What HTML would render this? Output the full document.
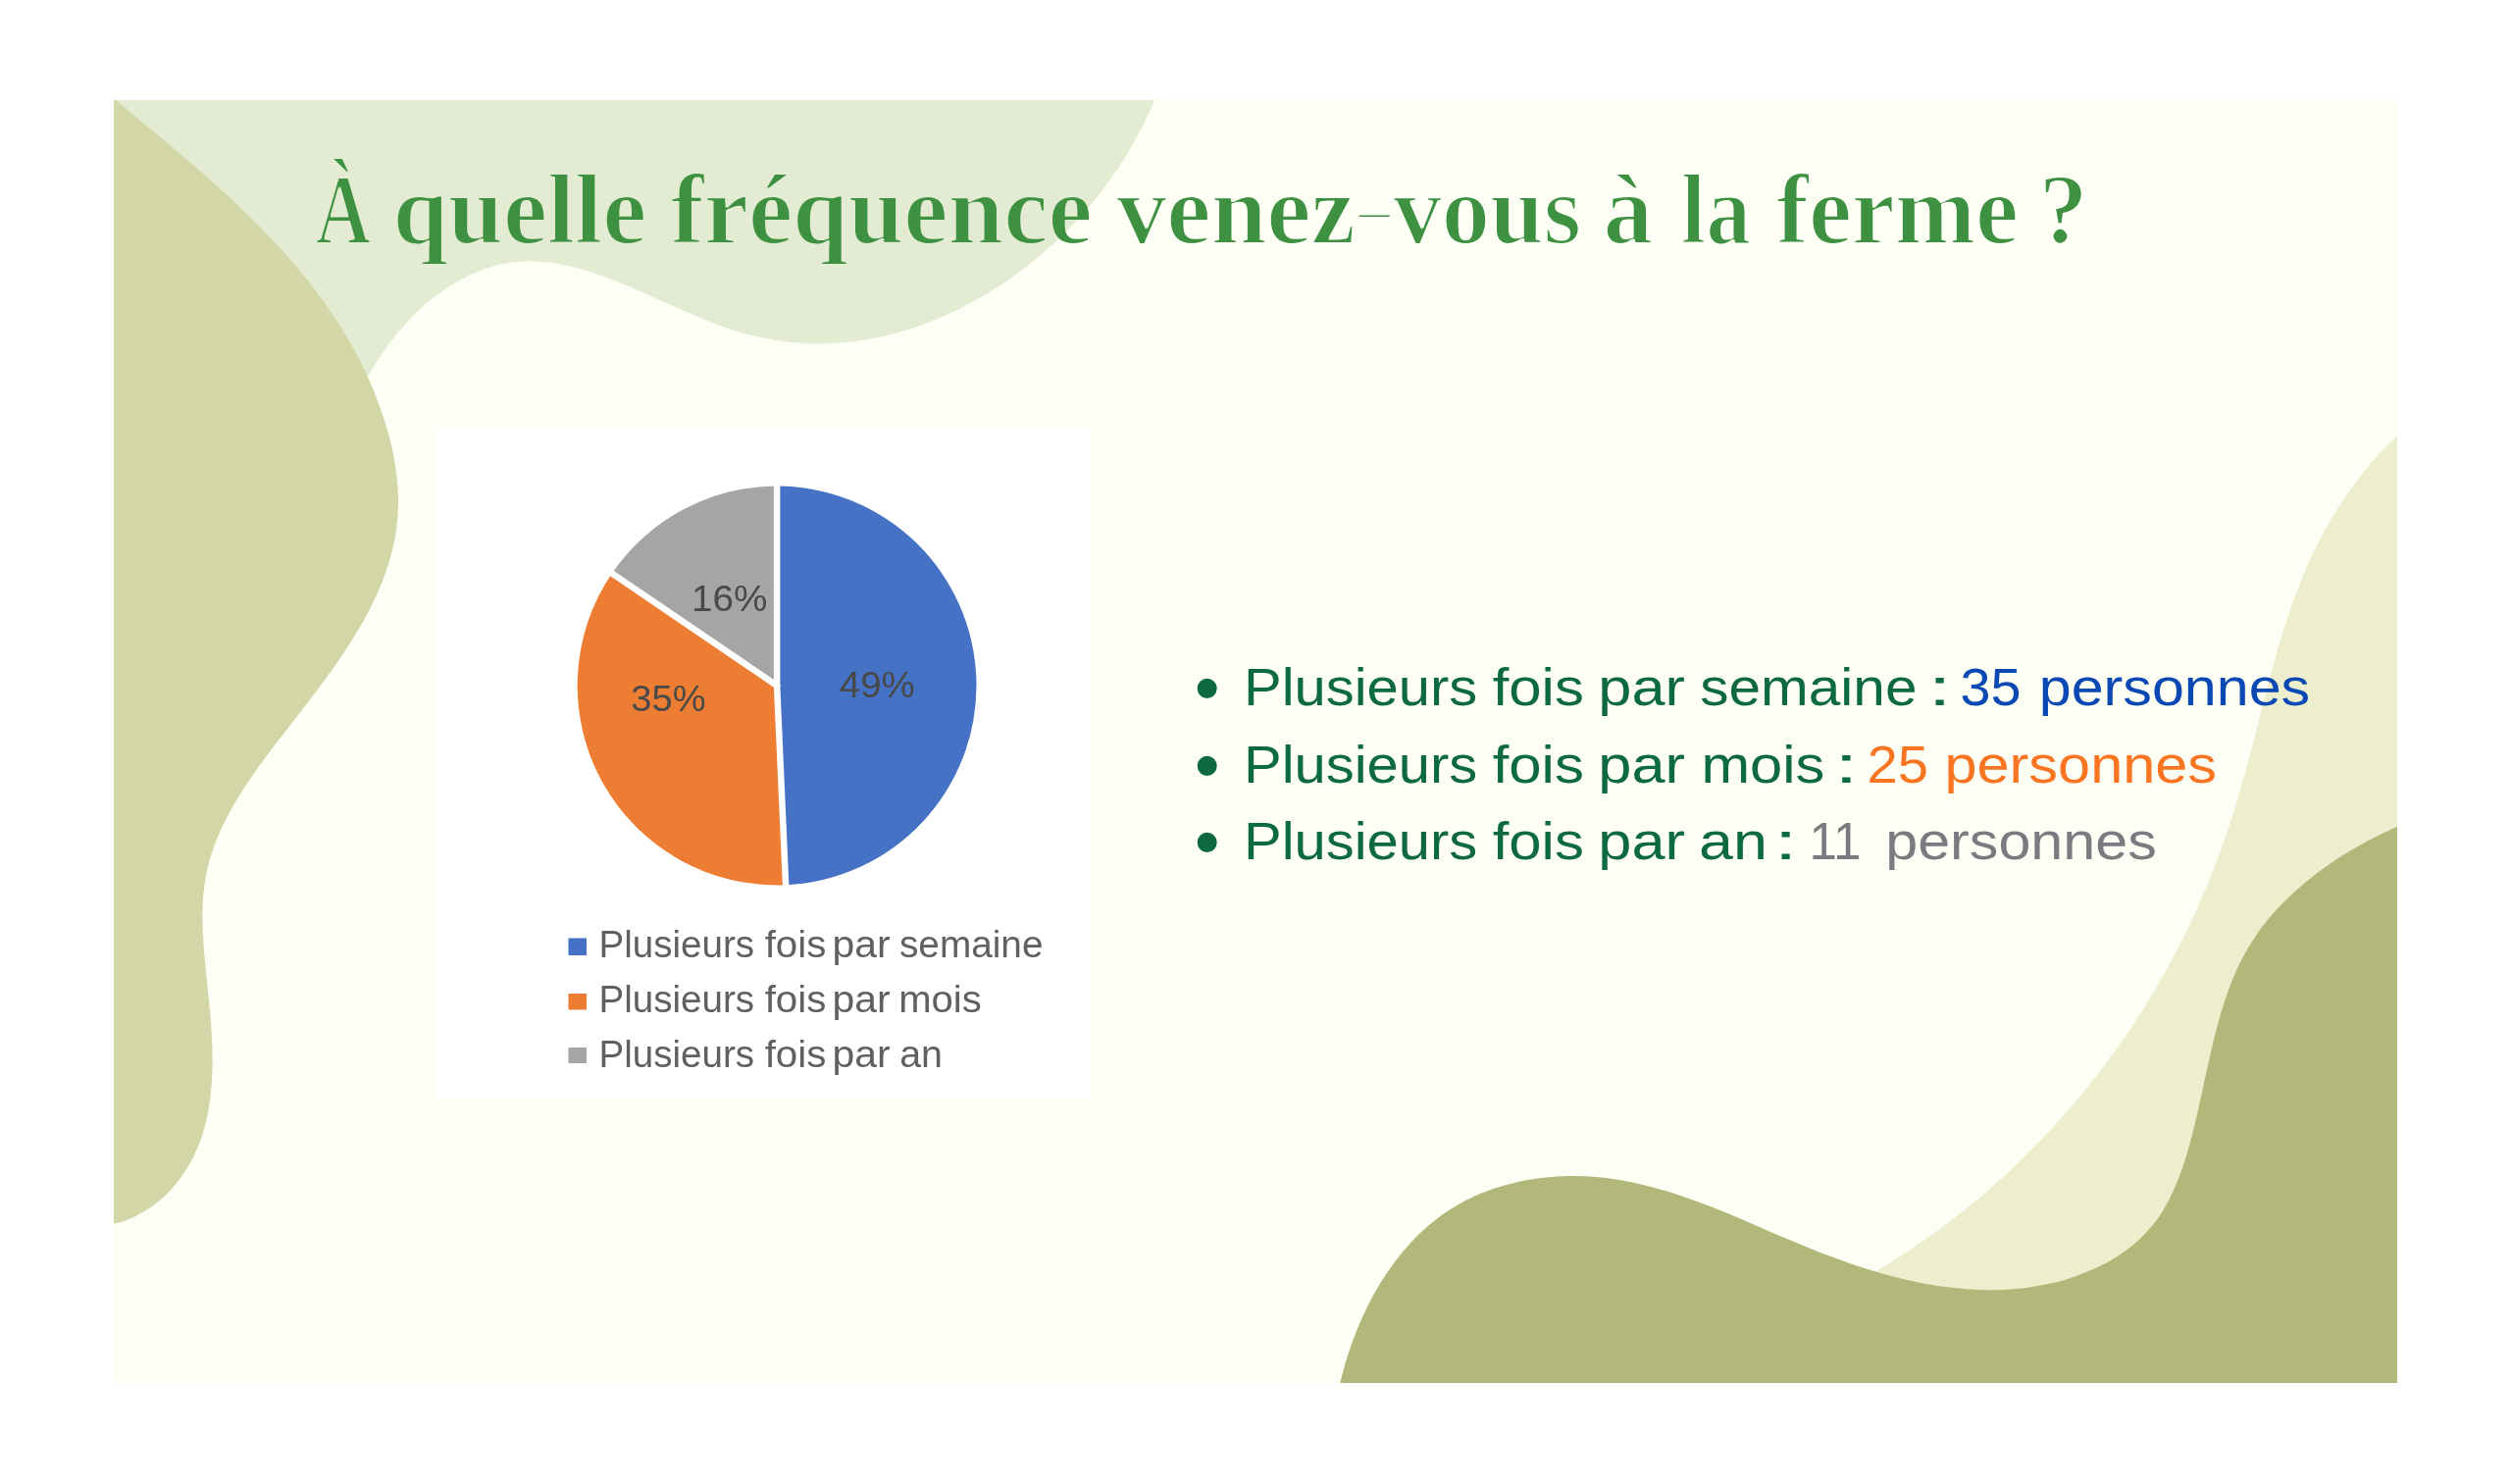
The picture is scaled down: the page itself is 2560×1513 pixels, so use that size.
<!DOCTYPE html>
<html lang="fr"><head><meta charset="utf-8"><title>À quelle fréquence venez-vous à la ferme ?</title>
<style>html,body{margin:0;padding:0;background:#fff}body{width:2560px;height:1513px;overflow:hidden}svg{display:block}text{white-space:pre}</style></head><body>
<svg width="2560" height="1513" viewBox="0 0 2560 1513">
<defs><clipPath id="slide"><rect x="116" y="102" width="2328" height="1308"/></clipPath><filter id="soft" x="-5%" y="-5%" width="110%" height="110%"><feGaussianBlur stdDeviation="0.65"/></filter><filter id="thin" x="-2%" y="-20%" width="104%" height="140%"><feMorphology operator="erode" radius="1"/></filter></defs>
<rect width="2560" height="1513" fill="#ffffff"/>
<!-- slide background and organic shapes -->
<g clip-path="url(#slide)">
<rect x="116" y="102" width="2328" height="1308" fill="#FDFFF5"/>
<path d="M116 80 L1182.5 88.0 C1180.9 91.9 1176.4 103.8 1173.0 111.6 C1169.6 119.4 1165.8 127.1 1161.8 134.7 C1157.8 142.3 1153.6 149.8 1149.0 157.2 C1144.5 164.6 1139.8 171.8 1134.8 179.0 C1129.8 186.1 1124.5 193.1 1119.1 199.9 C1113.7 206.7 1108.0 213.4 1102.1 219.9 C1096.3 226.4 1090.2 232.8 1083.9 238.9 C1077.7 245.1 1071.2 251.0 1064.6 256.8 C1058.0 262.5 1051.2 268.1 1044.3 273.4 C1037.4 278.7 1030.3 283.9 1023.1 288.7 C1015.8 293.6 1008.5 298.2 1001.0 302.6 C993.5 306.9 985.9 311.0 978.1 314.9 C970.4 318.7 962.6 322.2 954.7 325.5 C946.8 328.8 938.7 331.7 930.7 334.4 C922.6 337.1 914.4 339.4 906.2 341.4 C898.0 343.5 889.7 345.2 881.4 346.5 C873.0 347.9 864.7 348.9 856.3 349.5 C847.9 350.2 839.4 350.5 831.0 350.4 C822.6 350.3 814.1 349.8 805.7 348.9 C797.2 348.1 788.8 346.8 780.3 345.1 C771.9 343.5 763.5 341.3 755.1 338.9 C746.8 336.4 738.4 333.5 730.1 330.4 C721.8 327.3 713.5 323.8 705.2 320.3 C696.9 316.8 688.7 313.1 680.4 309.4 C672.2 305.8 664.0 302.0 655.8 298.4 C647.6 294.8 639.4 291.2 631.3 288.0 C623.1 284.7 615.0 281.6 606.9 278.8 C598.7 276.1 590.6 273.7 582.5 271.7 C574.4 269.8 566.3 268.2 558.2 267.4 C550.1 266.5 542.1 266.0 534.0 266.4 C525.9 266.8 517.8 267.8 509.8 269.6 C501.8 271.5 493.7 274.1 485.8 277.4 C477.8 280.7 470.0 284.8 462.4 289.4 C454.8 293.9 447.4 299.2 440.3 304.7 C433.3 310.3 426.6 316.4 420.3 322.8 C414.0 329.1 408.2 335.9 402.7 342.7 C397.2 349.6 392.1 356.8 387.3 364.0 C382.6 371.3 378.1 378.7 373.9 386.0 C369.7 393.3 364.0 404.3 362.0 408.0 L116 460 Z" fill="#E3ECD2"/>
<path d="M98.0 85.3 C101.6 88.3 112.5 97.4 119.8 103.5 C127.1 109.6 134.4 115.6 141.7 121.7 C149.1 127.8 156.4 133.9 163.7 140.0 C171.1 146.2 178.4 152.3 185.7 158.5 C192.9 164.7 200.2 170.9 207.3 177.2 C214.5 183.5 221.6 189.9 228.7 196.3 C235.7 202.8 242.6 209.3 249.5 215.9 C256.3 222.5 263.0 229.2 269.6 236.0 C276.2 242.8 282.7 249.7 289.0 256.7 C295.3 263.7 301.5 270.9 307.5 278.1 C313.5 285.4 319.3 292.8 324.9 300.4 C330.5 308.0 336.0 315.7 341.2 323.5 C346.4 331.4 351.4 339.5 356.1 347.7 C360.8 355.9 365.3 364.3 369.6 372.9 C373.8 381.5 377.8 390.4 381.4 399.4 C385.1 408.4 388.5 417.6 391.5 426.9 C394.5 436.2 397.1 445.7 399.3 455.2 C401.4 464.6 403.1 474.2 404.3 483.7 C405.4 493.1 406.1 502.6 406.0 511.9 C406.0 521.2 405.3 530.4 404.1 539.4 C402.8 548.5 400.9 557.4 398.6 566.1 C396.3 574.9 393.3 583.6 390.0 592.2 C386.7 600.7 382.8 609.2 378.7 617.5 C374.6 625.9 370.0 634.2 365.2 642.3 C360.3 650.5 355.2 658.6 349.8 666.7 C344.4 674.7 338.8 682.7 333.0 690.6 C327.3 698.6 321.3 706.4 315.3 714.3 C309.4 722.1 303.2 729.9 297.1 737.7 C291.1 745.5 285.0 753.2 279.1 761.0 C273.2 768.9 267.3 776.7 261.7 784.6 C256.2 792.4 250.7 800.3 245.7 808.4 C240.7 816.4 235.9 824.5 231.7 832.7 C227.4 840.9 223.5 849.2 220.2 857.7 C217.0 866.1 214.1 874.7 212.0 883.5 C209.9 892.2 208.4 901.2 207.5 910.3 C206.6 919.4 206.4 928.7 206.4 938.1 C206.5 947.5 207.1 957.0 207.8 966.6 C208.5 976.2 209.5 986.0 210.5 995.7 C211.4 1005.5 212.6 1015.3 213.5 1025.1 C214.4 1034.9 215.3 1044.8 215.8 1054.6 C216.3 1064.4 216.7 1074.2 216.6 1083.8 C216.5 1093.5 216.1 1103.1 215.1 1112.5 C214.2 1121.8 212.9 1131.1 210.8 1140.1 C208.8 1149.1 206.3 1158.0 202.9 1166.4 C199.6 1174.9 195.6 1183.3 190.8 1191.1 C185.9 1198.9 180.3 1206.5 174.0 1213.3 C167.6 1220.0 160.5 1226.4 152.7 1231.6 C144.9 1236.9 136.4 1241.5 127.3 1244.7 C118.2 1247.9 102.9 1250.0 98.0 1251.0 Z" fill="#D3D7A8"/>
<path d="M2459.0 431.0 C2455.0 434.7 2442.5 445.5 2434.9 453.1 C2427.3 460.7 2420.2 468.6 2413.5 476.7 C2406.7 484.8 2400.4 493.2 2394.4 501.7 C2388.4 510.2 2382.9 518.9 2377.6 527.8 C2372.3 536.7 2367.4 545.8 2362.7 555.0 C2358.1 564.2 2353.8 573.6 2349.7 583.1 C2345.7 592.6 2341.9 602.3 2338.3 612.0 C2334.8 621.8 2331.5 631.7 2328.3 641.6 C2325.2 651.5 2322.2 661.6 2319.4 671.7 C2316.5 681.7 2313.8 691.9 2311.1 702.1 C2308.4 712.3 2305.9 722.5 2303.2 732.7 C2300.6 742.9 2298.1 753.2 2295.4 763.4 C2292.7 773.6 2290.1 783.8 2287.2 794.0 C2284.4 804.1 2281.5 814.3 2278.4 824.3 C2275.3 834.4 2272.1 844.4 2268.6 854.3 C2265.2 864.2 2261.6 874.1 2257.8 883.8 C2254.0 893.6 2250.0 903.3 2245.9 912.9 C2241.8 922.5 2237.4 932.0 2233.0 941.4 C2228.5 950.8 2223.8 960.2 2219.0 969.4 C2214.2 978.6 2209.2 987.8 2204.1 996.8 C2199.0 1005.9 2193.7 1014.8 2188.2 1023.7 C2182.7 1032.5 2177.1 1041.3 2171.3 1049.9 C2165.5 1058.5 2159.6 1067.1 2153.5 1075.5 C2147.3 1083.9 2141.1 1092.2 2134.7 1100.3 C2128.2 1108.5 2121.7 1116.6 2114.9 1124.5 C2108.2 1132.4 2101.3 1140.2 2094.3 1147.9 C2087.3 1155.6 2080.1 1163.1 2072.8 1170.5 C2065.5 1178.0 2058.0 1185.2 2050.4 1192.4 C2042.8 1199.5 2035.0 1206.5 2027.1 1213.4 C2019.2 1220.2 2011.2 1226.9 2003.0 1233.5 C1994.8 1240.0 1986.5 1246.4 1978.0 1252.7 C1969.5 1258.9 1960.9 1265.1 1952.2 1271.0 C1943.5 1276.9 1934.6 1282.7 1925.6 1288.3 C1916.6 1293.9 1907.5 1299.4 1898.2 1304.7 C1888.9 1310.0 1874.7 1317.4 1870.0 1320.0 L1870 1430 L2464 1430 Z" fill="#EDEECE"/>
<path d="M1362.5 1428.0 C1363.4 1424.0 1365.7 1411.9 1367.8 1403.8 C1369.9 1395.7 1372.2 1387.4 1374.9 1379.3 C1377.6 1371.2 1380.6 1363.0 1383.8 1355.0 C1387.1 1347.0 1390.7 1339.0 1394.6 1331.2 C1398.5 1323.4 1402.8 1315.7 1407.3 1308.3 C1411.8 1300.9 1416.7 1293.7 1421.9 1286.8 C1427.0 1279.9 1432.5 1273.2 1438.3 1266.9 C1444.1 1260.7 1450.2 1254.7 1456.7 1249.2 C1463.2 1243.7 1469.9 1238.5 1477.0 1233.9 C1484.1 1229.3 1491.6 1225.1 1499.3 1221.4 C1506.9 1217.8 1515.0 1214.6 1523.1 1211.8 C1531.2 1209.1 1539.6 1206.8 1548.0 1205.0 C1556.4 1203.1 1565.1 1201.7 1573.6 1200.8 C1582.2 1199.8 1590.8 1199.2 1599.4 1199.1 C1607.9 1198.9 1616.4 1199.2 1624.8 1199.8 C1633.2 1200.5 1641.6 1201.5 1649.8 1202.8 C1658.1 1204.1 1666.2 1205.8 1674.4 1207.7 C1682.5 1209.7 1690.5 1211.9 1698.6 1214.3 C1706.6 1216.7 1714.5 1219.4 1722.5 1222.2 C1730.5 1225.0 1738.4 1228.0 1746.3 1231.1 C1754.2 1234.2 1762.1 1237.5 1770.0 1240.8 C1777.9 1244.1 1785.8 1247.5 1793.7 1250.9 C1801.7 1254.3 1809.6 1257.8 1817.6 1261.2 C1825.5 1264.5 1833.5 1267.9 1841.6 1271.2 C1849.6 1274.5 1857.7 1277.8 1865.9 1280.8 C1874.1 1283.9 1882.3 1286.9 1890.6 1289.7 C1898.8 1292.5 1907.2 1295.1 1915.6 1297.5 C1924.0 1300.0 1932.4 1302.2 1940.9 1304.2 C1949.3 1306.2 1957.8 1308.0 1966.3 1309.4 C1974.8 1310.9 1983.4 1312.2 1991.9 1313.1 C2000.4 1314.0 2008.9 1314.7 2017.4 1315.0 C2025.8 1315.3 2034.3 1315.3 2042.7 1314.9 C2051.1 1314.5 2059.5 1313.8 2067.8 1312.7 C2076.2 1311.5 2084.4 1310.0 2092.6 1308.1 C2100.8 1306.1 2109.0 1303.8 2117.0 1300.9 C2125.0 1298.1 2132.9 1294.8 2140.5 1291.1 C2148.0 1287.4 2155.5 1283.2 2162.4 1278.5 C2169.3 1273.8 2175.9 1268.7 2181.9 1263.0 C2187.8 1257.3 2193.3 1251.2 2198.2 1244.6 C2203.1 1238.0 2207.3 1230.8 2211.2 1223.4 C2215.1 1216.0 2218.4 1208.2 2221.5 1200.2 C2224.6 1192.3 2227.3 1184.0 2229.8 1175.7 C2232.3 1167.3 2234.5 1158.8 2236.6 1150.4 C2238.7 1141.9 2240.7 1133.3 2242.6 1124.8 C2244.5 1116.3 2246.3 1107.7 2248.1 1099.2 C2250.0 1090.6 2251.8 1082.1 2253.8 1073.7 C2255.7 1065.3 2257.7 1056.9 2259.9 1048.6 C2262.1 1040.3 2264.4 1032.1 2267.0 1024.0 C2269.6 1016.0 2272.4 1008.0 2275.5 1000.3 C2278.7 992.5 2282.0 984.9 2285.9 977.5 C2289.7 970.1 2293.9 962.9 2298.6 955.9 C2303.2 948.9 2308.4 942.2 2313.8 935.6 C2319.3 929.1 2325.2 922.8 2331.3 916.8 C2337.4 910.8 2343.9 905.0 2350.6 899.4 C2357.3 893.9 2364.3 888.5 2371.4 883.5 C2378.6 878.4 2385.9 873.6 2393.4 869.1 C2400.8 864.6 2408.4 860.3 2416.0 856.3 C2423.6 852.3 2431.3 848.5 2439.0 845.1 C2446.7 841.6 2458.2 837.1 2462.0 835.5 L2464 1430 Z" fill="#B1B87A"/>
</g>
<!-- pie chart -->
<g id="chart">
<rect x="444" y="436.5" width="669.6" height="683.5" fill="#ffffff"/>
<g filter="url(#soft)">
<path d="M792.10 699.00 L792.10 495.60 A203.4 203.4 0 0 1 801.10 902.20 Z" fill="#4472C4"/>
<path d="M792.10 699.00 L801.10 902.20 A203.4 203.4 0 0 1 623.92 584.60 Z" fill="#ED7D31"/>
<path d="M792.10 699.00 L623.92 584.60 A203.4 203.4 0 0 1 792.10 495.60 Z" fill="#A5A5A5"/>
<line x1="792.10" y1="699.00" x2="792.10" y2="492.60" stroke="#fff" stroke-width="6.5" stroke-linecap="round"/>
<line x1="792.10" y1="699.00" x2="801.23" y2="905.20" stroke="#fff" stroke-width="6.5" stroke-linecap="round"/>
<line x1="792.10" y1="699.00" x2="621.44" y2="582.91" stroke="#fff" stroke-width="6.5" stroke-linecap="round"/>
<rect x="579.5" y="956.5" width="18.5" height="17.5" fill="#4472C4"/>
<rect x="579.5" y="1013" width="18.5" height="16.5" fill="#ED7D31"/>
<rect x="579.5" y="1068" width="18.5" height="16" fill="#A5A5A5"/>
<g font-family="&quot;Liberation Sans&quot;, sans-serif">
<text font-size="36.5" fill="#484848"><tspan id="p1" x="705.01" y="622.50" textLength="77.30" lengthAdjust="spacingAndGlyphs">16%</tspan></text>
<text font-size="36.5" fill="#484848"><tspan id="p2" x="643.33" y="724.70" textLength="76.20" lengthAdjust="spacingAndGlyphs">35%</tspan></text>
<text font-size="36.5" fill="#484848"><tspan id="p3" x="855.72" y="711.10" textLength="77.12" lengthAdjust="spacingAndGlyphs">49%</tspan></text>
<text font-size="38.0" fill="#606060"><tspan id="l1a" x="610.50" y="975.60" textLength="158.56" lengthAdjust="spacingAndGlyphs">Plusieurs</tspan> <tspan id="l1b" x="779.68" y="975.60" textLength="62.68" lengthAdjust="spacingAndGlyphs">fois</tspan> <tspan id="l1c" x="848.46" y="975.60" textLength="59.03" lengthAdjust="spacingAndGlyphs">par</tspan> <tspan id="l1d" x="917.00" y="975.60" textLength="146.45" lengthAdjust="spacingAndGlyphs">semaine</tspan></text>
<text font-size="38.0" fill="#606060"><tspan id="l2a" x="610.50" y="1032.20" textLength="158.56" lengthAdjust="spacingAndGlyphs">Plusieurs</tspan> <tspan id="l2b" x="779.68" y="1032.20" textLength="62.68" lengthAdjust="spacingAndGlyphs">fois</tspan> <tspan id="l2c" x="848.46" y="1032.20" textLength="59.03" lengthAdjust="spacingAndGlyphs">par</tspan> <tspan id="l2d" x="916.30" y="1032.20" textLength="84.46" lengthAdjust="spacingAndGlyphs">mois</tspan></text>
<text font-size="38.0" fill="#606060"><tspan id="l3a" x="610.50" y="1088.00" textLength="158.56" lengthAdjust="spacingAndGlyphs">Plusieurs</tspan> <tspan id="l3b" x="779.68" y="1088.00" textLength="62.68" lengthAdjust="spacingAndGlyphs">fois</tspan> <tspan id="l3c" x="848.46" y="1088.00" textLength="59.03" lengthAdjust="spacingAndGlyphs">par</tspan> <tspan id="l3d" x="917.23" y="1088.00" textLength="43.76" lengthAdjust="spacingAndGlyphs">an</tspan></text>
</g>
</g>
</g>
<!-- title -->
<text filter="url(#thin)" font-family='"Liberation Serif", serif' font-weight="bold" font-size="101.0" fill="#3C9141"><tspan id="t1" x="321.74" y="248.00" textLength="56.36" lengthAdjust="spacingAndGlyphs">À</tspan> <tspan id="t2" x="400.40" y="248.00" textLength="258.79" lengthAdjust="spacingAndGlyphs">quelle</tspan> <tspan id="t3" x="683.78" y="248.00" textLength="429.84" lengthAdjust="spacingAndGlyphs">fréquence</tspan> <tspan id="t4a" x="1138.40" y="248.00" textLength="243.48" lengthAdjust="spacingAndGlyphs">venez</tspan><tspan id="t4b" x="1378.76" y="232.70" textLength="44.98" lengthAdjust="spacingAndGlyphs" font-family="&quot;Liberation Sans&quot;, sans-serif" font-weight="normal" font-size="46">-</tspan><tspan id="t4c" x="1420.59" y="248.00" textLength="191.48" lengthAdjust="spacingAndGlyphs">vous</tspan> <tspan id="t5" x="1634.48" y="248.00" textLength="50.72" lengthAdjust="spacingAndGlyphs">à</tspan> <tspan id="t6" x="1713.84" y="248.00" textLength="71.16" lengthAdjust="spacingAndGlyphs">la</tspan> <tspan id="t7" x="1810.99" y="248.00" textLength="246.93" lengthAdjust="spacingAndGlyphs">ferme</tspan> <tspan id="t8" x="2078.65" y="248.00" textLength="49.92" lengthAdjust="spacingAndGlyphs">?</tspan></text>
<!-- bullet list -->
<g font-family="&quot;Liberation Sans&quot;, sans-serif" font-size="54.0" fill="#0D6A3F">
<text><tspan id="b1z" x="1217.85" y="727.30" textLength="25.88" lengthAdjust="spacingAndGlyphs" font-size="73.4">•</tspan> <tspan id="b1a" x="1268.08" y="719.30" textLength="238.16" lengthAdjust="spacingAndGlyphs">Plusieurs</tspan> <tspan id="b1b" x="1521.71" y="719.30" textLength="93.14" lengthAdjust="spacingAndGlyphs">fois</tspan> <tspan id="b1c" x="1629.39" y="719.30" textLength="88.53" lengthAdjust="spacingAndGlyphs">par</tspan> <tspan id="b1d" x="1733.30" y="719.30" textLength="221.12" lengthAdjust="spacingAndGlyphs">semaine</tspan> <tspan id="b1e" x="1965.70" y="719.30" textLength="23.69" lengthAdjust="spacingAndGlyphs">:</tspan> <tspan id="b1f" x="1998.63" y="719.30" textLength="61.95" lengthAdjust="spacingAndGlyphs" fill="#0A48B3">35</tspan> <tspan id="b1g" x="2078.76" y="719.30" textLength="276.44" lengthAdjust="spacingAndGlyphs" fill="#0A48B3">personnes</tspan></text>
<text><tspan id="b2z" x="1217.85" y="805.80" textLength="25.88" lengthAdjust="spacingAndGlyphs" font-size="73.4">•</tspan> <tspan id="b2a" x="1268.08" y="797.80" textLength="238.16" lengthAdjust="spacingAndGlyphs">Plusieurs</tspan> <tspan id="b2b" x="1521.71" y="797.80" textLength="93.14" lengthAdjust="spacingAndGlyphs">fois</tspan> <tspan id="b2c" x="1629.39" y="797.80" textLength="88.53" lengthAdjust="spacingAndGlyphs">par</tspan> <tspan id="b2d" x="1734.43" y="797.80" textLength="125.86" lengthAdjust="spacingAndGlyphs">mois</tspan> <tspan id="b2e" x="1870.32" y="797.80" textLength="24.19" lengthAdjust="spacingAndGlyphs">:</tspan> <tspan id="b2f" x="1903.45" y="797.80" textLength="62.55" lengthAdjust="spacingAndGlyphs" fill="#FA7521">25</tspan> <tspan id="b2g" x="1982.47" y="797.80" textLength="277.54" lengthAdjust="spacingAndGlyphs" fill="#FA7521">personnes</tspan></text>
<text><tspan id="b3z" x="1217.85" y="884.30" textLength="25.88" lengthAdjust="spacingAndGlyphs" font-size="73.4">•</tspan> <tspan id="b3a" x="1268.08" y="876.30" textLength="238.16" lengthAdjust="spacingAndGlyphs">Plusieurs</tspan> <tspan id="b3b" x="1521.71" y="876.30" textLength="93.14" lengthAdjust="spacingAndGlyphs">fois</tspan> <tspan id="b3c" x="1629.39" y="876.30" textLength="88.53" lengthAdjust="spacingAndGlyphs">par</tspan> <tspan id="b3d" x="1732.08" y="876.30" textLength="69.79" lengthAdjust="spacingAndGlyphs">an</tspan> <tspan id="b3e" x="1808.70" y="876.30" textLength="23.69" lengthAdjust="spacingAndGlyphs">:</tspan> <tspan id="b3f" x="1844.38" y="876.30" textLength="53.11" lengthAdjust="spacingAndGlyphs" fill="#7B7A80">11</tspan> <tspan id="b3g" x="1922.27" y="876.30" textLength="276.50" lengthAdjust="spacingAndGlyphs" fill="#7B7A80">personnes</tspan></text>
</g>
</svg>
</body></html>
